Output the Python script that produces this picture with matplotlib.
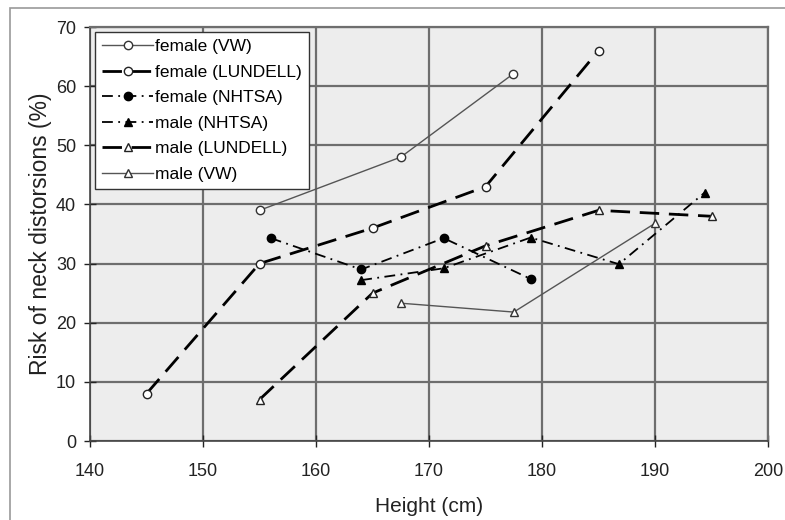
import matplotlib
matplotlib.use("Agg")
import matplotlib.pyplot as plt
from matplotlib.patches import Rectangle

plt.rcParams['font.family'] = ['Liberation Sans', 'DejaVu Sans']

# Data
fvw_x = [155, 167.5, 177.4]
fvw_y = [39, 48, 62]
flun_x = [145, 155, 165, 175, 185]
flun_y = [8, 30, 36, 43, 66]
fnh_x = [156, 164, 171.3, 179]
fnh_y = [34.3, 29, 34.3, 27.4]
mnh_x = [164, 171.3, 179, 186.8, 194.4]
mnh_y = [27.2, 29.2, 34.4, 29.9, 42]
mlun_x = [155, 165, 175, 185, 195]
mlun_y = [7, 25, 33, 39, 38]
mvw_x = [167.5, 177.5, 190]
mvw_y = [23.3, 21.8, 36.8]

labels = ['female (VW)', 'female (LUNDELL)', 'female (NHTSA)',
          'male (NHTSA)', 'male (LUNDELL)', 'male (VW)']
xticks = [140, 150, 160, 170, 180, 190, 200]
yticks = [0, 10, 20, 30, 40, 50, 60, 70]

fig = plt.figure(figsize=(7.85, 5.2), dpi=100)
ax = fig.add_axes([90/785, 79/520, (768-90)/785, (441-27)/520])
ax.set_facecolor('#ededed')

grey = '#555555'
ax.plot(fvw_x, fvw_y, color=grey, lw=1.0, marker='o', ms=6,
        mfc='white', mec='#333333', mew=1.0, label=labels[0])
ax.plot(flun_x, flun_y, color='black', lw=2.0, dashes=(7, 3.5), marker='o', ms=6,
        mfc='white', mec='#222222', mew=1.0, label=labels[1])
ax.plot(fnh_x, fnh_y, color='black', lw=1.3, dashes=(6, 3, 1, 3), marker='o', ms=6,
        mfc='black', mec='black', label=labels[2])
ax.plot(mnh_x, mnh_y, color='black', lw=1.3, dashes=(6, 3, 1, 3), marker='^', ms=6,
        mfc='black', mec='black', label=labels[3])
ax.plot(mlun_x, mlun_y, color='black', lw=2.0, dashes=(7, 3.5), marker='^', ms=6,
        mfc='white', mec='#222222', mew=1.0, label=labels[4])
ax.plot(mvw_x, mvw_y, color=grey, lw=1.0, marker='^', ms=6,
        mfc='white', mec='#333333', mew=1.0, label=labels[5])

ax.set_xlim(140, 200)
ax.set_ylim(0, 70)
ax.set_xticks(xticks)
ax.set_yticks(yticks)
ax.grid(True, color='#6e6e6e', lw=1.6)
ax.set_axisbelow(True)
ax.tick_params(direction='inout', length=8, width=1, labelsize=13, colors='#222222')
ax.tick_params(axis='x', pad=12)
ax.tick_params(axis='y', pad=6)
for s in ['left', 'bottom']:
    ax.spines[s].set_color('#444444')
    ax.spines[s].set_linewidth(1.2)
for s in ['top', 'right']:
    ax.spines[s].set_color('#6e6e6e')
    ax.spines[s].set_linewidth(1.6)

ax.set_xlabel('Height (cm)', fontsize=15, labelpad=12, color='#222222')
ax.set_ylabel('Risk of neck distorsions (%)', fontsize=16.5, labelpad=3, color='#222222')

leg = ax.legend(loc='upper left', bbox_to_anchor=(0.008, 0.988), fontsize=12.5,
                frameon=True, fancybox=False, edgecolor='#333333',
                handlelength=2.9, handletextpad=0.15, borderpad=0.4,
                labelspacing=0.6, borderaxespad=0.0)
leg.get_frame().set_linewidth(1.0)
leg.get_frame().set_facecolor('white')
leg.get_frame().set_alpha(1)

# figure border
fig.patches.append(Rectangle((10/785, -0.01), 1.02, 1 - 8/520 + 0.01,
                             transform=fig.transFigure, fill=False,
                             edgecolor='#999999', lw=1.2))

fig.savefig('out.png', dpi=100)
